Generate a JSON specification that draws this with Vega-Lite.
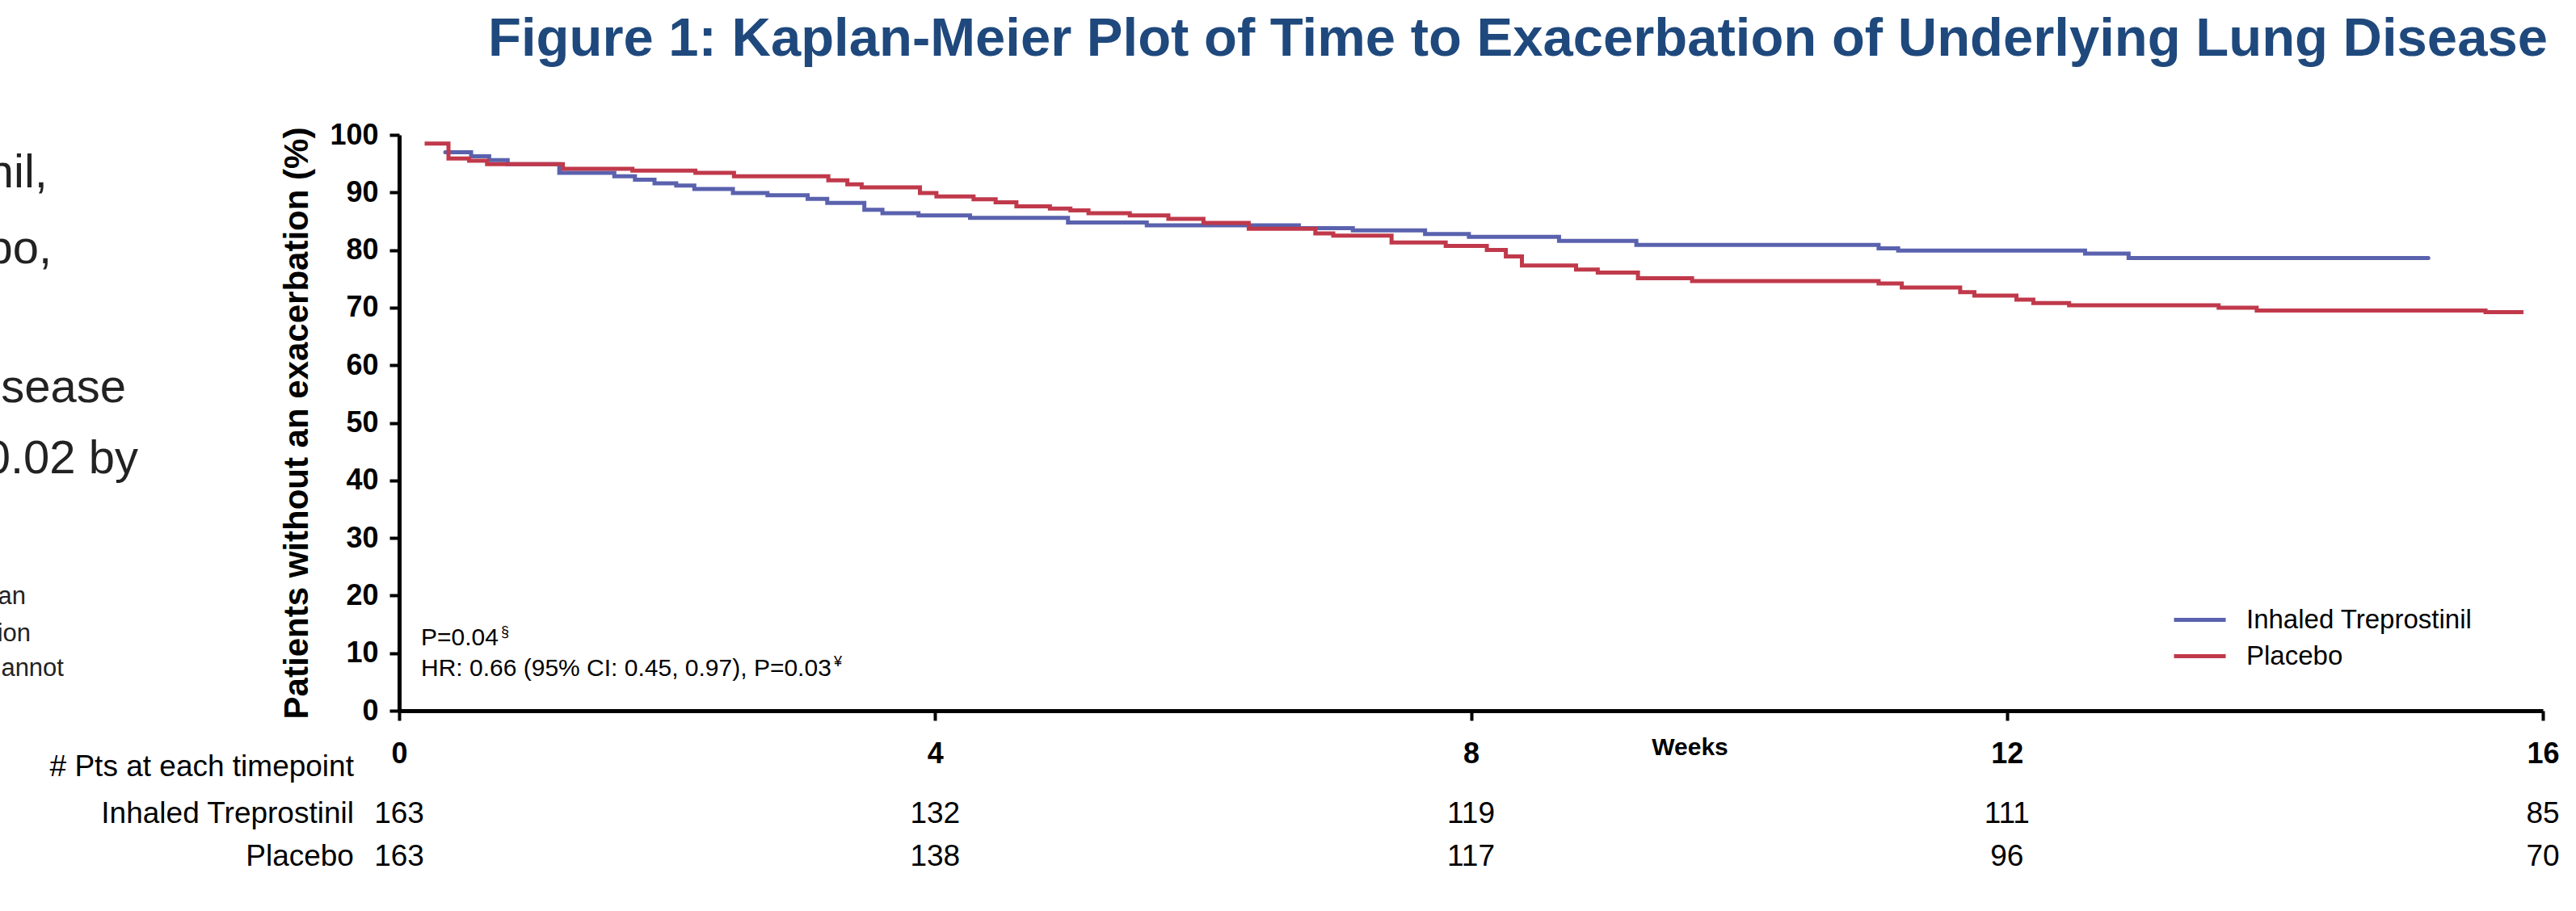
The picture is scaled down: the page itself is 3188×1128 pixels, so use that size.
{
  "$schema": "https://vega.github.io/schema/vega-lite/v6.json",
  "autosize": {"type": "none"},
  "width": 2653,
  "height": 713,
  "padding": {"left": 494, "top": 167, "right": 41, "bottom": 248},
  "background": "white",
  "title": {
    "text": "Figure 1: Kaplan-Meier Plot of Time to Exacerbation of Underlying Lung Disease",
    "anchor": "start",
    "frame": "group",
    "dx": 110,
    "offset": 66,
    "font": "Liberation Sans",
    "fontSize": 67,
    "fontWeight": "bold",
    "color": "#1F497D"
  },
  "config": {"view": {"stroke": null}},
  "datasets": {
    "km": [
      {"series": "Inhaled Treprostinil", "week": 0.344, "pct": 97.0},
      {"series": "Inhaled Treprostinil", "week": 0.537, "pct": 96.3},
      {"series": "Inhaled Treprostinil", "week": 0.672, "pct": 95.6},
      {"series": "Inhaled Treprostinil", "week": 0.810, "pct": 94.9},
      {"series": "Inhaled Treprostinil", "week": 1.195, "pct": 93.4},
      {"series": "Inhaled Treprostinil", "week": 1.606, "pct": 92.8},
      {"series": "Inhaled Treprostinil", "week": 1.760, "pct": 92.2},
      {"series": "Inhaled Treprostinil", "week": 1.906, "pct": 91.6},
      {"series": "Inhaled Treprostinil", "week": 2.068, "pct": 91.2},
      {"series": "Inhaled Treprostinil", "week": 2.203, "pct": 90.6},
      {"series": "Inhaled Treprostinil", "week": 2.491, "pct": 89.9},
      {"series": "Inhaled Treprostinil", "week": 2.749, "pct": 89.5},
      {"series": "Inhaled Treprostinil", "week": 3.049, "pct": 88.9},
      {"series": "Inhaled Treprostinil", "week": 3.195, "pct": 88.2},
      {"series": "Inhaled Treprostinil", "week": 3.472, "pct": 87.0},
      {"series": "Inhaled Treprostinil", "week": 3.607, "pct": 86.4},
      {"series": "Inhaled Treprostinil", "week": 3.876, "pct": 86.0},
      {"series": "Inhaled Treprostinil", "week": 4.261, "pct": 85.6},
      {"series": "Inhaled Treprostinil", "week": 4.992, "pct": 84.8},
      {"series": "Inhaled Treprostinil", "week": 5.580, "pct": 84.3},
      {"series": "Inhaled Treprostinil", "week": 6.715, "pct": 83.8},
      {"series": "Inhaled Treprostinil", "week": 7.118, "pct": 83.4},
      {"series": "Inhaled Treprostinil", "week": 7.657, "pct": 82.8},
      {"series": "Inhaled Treprostinil", "week": 7.984, "pct": 82.3},
      {"series": "Inhaled Treprostinil", "week": 8.657, "pct": 81.6},
      {"series": "Inhaled Treprostinil", "week": 9.234, "pct": 80.9},
      {"series": "Inhaled Treprostinil", "week": 11.042, "pct": 80.3},
      {"series": "Inhaled Treprostinil", "week": 11.188, "pct": 79.9},
      {"series": "Inhaled Treprostinil", "week": 12.583, "pct": 79.4},
      {"series": "Inhaled Treprostinil", "week": 12.908, "pct": 78.6},
      {"series": "Inhaled Treprostinil", "week": 15.145, "pct": 78.6},
      {"series": "Placebo", "week": 0.190, "pct": 98.5},
      {"series": "Placebo", "week": 0.368, "pct": 95.9},
      {"series": "Placebo", "week": 0.522, "pct": 95.5},
      {"series": "Placebo", "week": 0.656, "pct": 94.9},
      {"series": "Placebo", "week": 1.222, "pct": 94.1},
      {"series": "Placebo", "week": 1.741, "pct": 93.8},
      {"series": "Placebo", "week": 2.211, "pct": 93.4},
      {"series": "Placebo", "week": 2.499, "pct": 92.8},
      {"series": "Placebo", "week": 3.203, "pct": 92.1},
      {"series": "Placebo", "week": 3.345, "pct": 91.4},
      {"series": "Placebo", "week": 3.452, "pct": 90.9},
      {"series": "Placebo", "week": 3.887, "pct": 89.9},
      {"series": "Placebo", "week": 4.010, "pct": 89.3},
      {"series": "Placebo", "week": 4.287, "pct": 88.8},
      {"series": "Placebo", "week": 4.452, "pct": 88.3},
      {"series": "Placebo", "week": 4.607, "pct": 87.6},
      {"series": "Placebo", "week": 4.857, "pct": 87.2},
      {"series": "Placebo", "week": 5.010, "pct": 86.9},
      {"series": "Placebo", "week": 5.145, "pct": 86.4},
      {"series": "Placebo", "week": 5.453, "pct": 86.0},
      {"series": "Placebo", "week": 5.741, "pct": 85.4},
      {"series": "Placebo", "week": 6.003, "pct": 84.7},
      {"series": "Placebo", "week": 6.341, "pct": 83.7},
      {"series": "Placebo", "week": 6.838, "pct": 82.9},
      {"series": "Placebo", "week": 6.972, "pct": 82.5},
      {"series": "Placebo", "week": 7.407, "pct": 81.3},
      {"series": "Placebo", "week": 7.811, "pct": 80.7},
      {"series": "Placebo", "week": 8.118, "pct": 80.0},
      {"series": "Placebo", "week": 8.260, "pct": 78.9},
      {"series": "Placebo", "week": 8.380, "pct": 77.3},
      {"series": "Placebo", "week": 8.784, "pct": 76.6},
      {"series": "Placebo", "week": 8.946, "pct": 76.1},
      {"series": "Placebo", "week": 9.246, "pct": 75.1},
      {"series": "Placebo", "week": 9.650, "pct": 74.6},
      {"series": "Placebo", "week": 11.042, "pct": 74.2},
      {"series": "Placebo", "week": 11.215, "pct": 73.5},
      {"series": "Placebo", "week": 11.651, "pct": 72.7},
      {"series": "Placebo", "week": 11.757, "pct": 72.1},
      {"series": "Placebo", "week": 12.071, "pct": 71.4},
      {"series": "Placebo", "week": 12.197, "pct": 70.8},
      {"series": "Placebo", "week": 12.464, "pct": 70.4},
      {"series": "Placebo", "week": 13.580, "pct": 70.0},
      {"series": "Placebo", "week": 13.864, "pct": 69.5},
      {"series": "Placebo", "week": 15.572, "pct": 69.2},
      {"series": "Placebo", "week": 15.855, "pct": 69.2}
    ],
    "texts": [
      {"kind": "rowlabel", "text": "# Pts at each timepoint", "week": -0.338, "pct": -9.82},
      {"kind": "rowlabel", "text": "Inhaled Treprostinil", "week": -0.338, "pct": -17.95},
      {"kind": "rowlabel", "text": "Placebo", "week": -0.338, "pct": -25.39},
      {"kind": "count", "text": "163", "week": 0, "pct": -17.95},
      {"kind": "count", "text": "132", "week": 4, "pct": -17.95},
      {"kind": "count", "text": "119", "week": 8, "pct": -17.95},
      {"kind": "count", "text": "111", "week": 12, "pct": -17.95},
      {"kind": "count", "text": "85", "week": 16, "pct": -17.95},
      {"kind": "count", "text": "163", "week": 0, "pct": -25.39},
      {"kind": "count", "text": "138", "week": 4, "pct": -25.39},
      {"kind": "count", "text": "117", "week": 8, "pct": -25.39},
      {"kind": "count", "text": "96", "week": 12, "pct": -25.39},
      {"kind": "count", "text": "70", "week": 16, "pct": -25.39},
      {"kind": "note", "text": "P=0.04", "week": 0.163, "pct": 12.62},
      {"kind": "note", "text": "HR: 0.66 (95% CI: 0.45, 0.97), P=0.03", "week": 0.163, "pct": 7.29},
      {"kind": "sup", "text": "§", "week": 0.760, "pct": 13.6},
      {"kind": "sup", "text": "¥", "week": 3.245, "pct": 8.4},
      {"kind": "sidebig", "text": "nil,", "week": -2.624, "pct": 90.88},
      {"kind": "sidebig", "text": "bo,", "week": -2.593, "pct": 77.70},
      {"kind": "sidebig", "text": "sease", "week": -2.039, "pct": 53.58},
      {"kind": "sidebig", "text": "0.02 by", "week": -1.948, "pct": 41.23},
      {"kind": "sidesmall", "text": "an", "week": -2.787, "pct": 18.51},
      {"kind": "sidesmall", "text": "ion", "week": -2.750, "pct": 12.06},
      {"kind": "sidesmall", "text": "annot", "week": -2.503, "pct": 6.03}
    ]
  },
  "encoding": {
    "x": {
      "field": "week",
      "type": "quantitative",
      "scale": {"domain": [0, 16], "nice": false, "zero": false},
      "axis": {
        "title": "Weeks",
        "values": [0, 4, 8, 12, 16],
        "format": "d",
        "grid": false,
        "labelFont": "Liberation Sans",
        "labelFontSize": 36,
        "labelFontWeight": "bold",
        "labelColor": "black",
        "labelPadding": 24,
        "labelFlush": false,
        "tickSize": 12,
        "tickWidth": 4,
        "tickColor": "black",
        "domainColor": "black",
        "domainWidth": 5,
        "titleFont": "Liberation Sans",
        "titleFontSize": 30,
        "titleFontWeight": "bold",
        "titleColor": "black",
        "titleX": 1597,
        "titleY": 45,
        "titleBaseline": "middle"
      }
    },
    "y": {
      "field": "pct",
      "type": "quantitative",
      "scale": {"domain": [0, 100], "nice": false},
      "axis": {
        "title": "Patients without an exacerbation (%)",
        "values": [0, 10, 20, 30, 40, 50, 60, 70, 80, 90, 100],
        "grid": false,
        "labelFont": "Liberation Sans",
        "labelFontSize": 36,
        "labelFontWeight": "bold",
        "labelColor": "black",
        "labelPadding": 14,
        "tickSize": 12,
        "tickWidth": 4,
        "tickColor": "black",
        "domainColor": "black",
        "domainWidth": 5,
        "titleFont": "Liberation Sans",
        "titleFontSize": 42,
        "titleFontWeight": "bold",
        "titleColor": "black",
        "titlePadding": 18
      }
    }
  },
  "layer": [
    {
      "data": {"name": "km"},
      "transform": [{"filter": "datum.series === 'Inhaled Treprostinil'"}],
      "mark": {"type": "line", "interpolate": "step-after", "strokeWidth": 5, "strokeCap": "round"},
      "encoding": {
        "color": {
          "field": "series",
          "type": "nominal",
          "scale": {"domain": ["Inhaled Treprostinil", "Placebo"], "range": ["#5A62AE", "#C0394B"]},
          "legend": {
            "title": null,
            "orient": "none",
            "legendX": 2201,
            "legendY": 573,
            "padding": 0,
            "symbolType": "M-1.28,0H1.28",
            "symbolSize": 2500,
            "symbolStrokeWidth": 5,
            "labelFont": "Liberation Sans",
            "labelFontSize": 33,
            "labelColor": "black",
            "labelLimit": 0,
            "labelOffset": 30,
            "rowPadding": 0
          }
        }
      }
    },
    {
      "data": {"name": "km"},
      "transform": [{"filter": "datum.series === 'Placebo'"}],
      "mark": {"type": "line", "interpolate": "step-after", "strokeWidth": 5, "strokeCap": "butt"},
      "encoding": {
        "color": {"field": "series", "type": "nominal"}
      }
    },
    {
      "data": {"name": "texts"},
      "transform": [{"filter": "datum.kind === 'rowlabel'"}],
      "mark": {"type": "text", "align": "right", "baseline": "middle", "font": "Liberation Sans", "fontSize": 37, "color": "black"},
      "encoding": {"text": {"field": "text"}}
    },
    {
      "data": {"name": "texts"},
      "transform": [{"filter": "datum.kind === 'count'"}],
      "mark": {"type": "text", "align": "center", "baseline": "middle", "font": "Liberation Sans", "fontSize": 37, "color": "black"},
      "encoding": {"text": {"field": "text"}}
    },
    {
      "data": {"name": "texts"},
      "transform": [{"filter": "datum.kind === 'note'"}],
      "mark": {"type": "text", "align": "left", "baseline": "middle", "font": "Liberation Sans", "fontSize": 30, "color": "black"},
      "encoding": {"text": {"field": "text"}}
    },
    {
      "data": {"name": "texts"},
      "transform": [{"filter": "datum.kind === 'sup'"}],
      "mark": {"type": "text", "align": "left", "baseline": "middle", "font": "Liberation Sans", "fontSize": 18, "color": "black"},
      "encoding": {"text": {"field": "text"}}
    },
    {
      "data": {"name": "texts"},
      "transform": [{"filter": "datum.kind === 'sidebig'"}],
      "mark": {"type": "text", "align": "right", "baseline": "alphabetic", "font": "Liberation Sans", "fontSize": 58, "color": "#222222"},
      "encoding": {"text": {"field": "text"}}
    },
    {
      "data": {"name": "texts"},
      "transform": [{"filter": "datum.kind === 'sidesmall'"}],
      "mark": {"type": "text", "align": "right", "baseline": "alphabetic", "font": "Liberation Sans", "fontSize": 31, "color": "#222222"},
      "encoding": {"text": {"field": "text"}}
    }
  ]
}
